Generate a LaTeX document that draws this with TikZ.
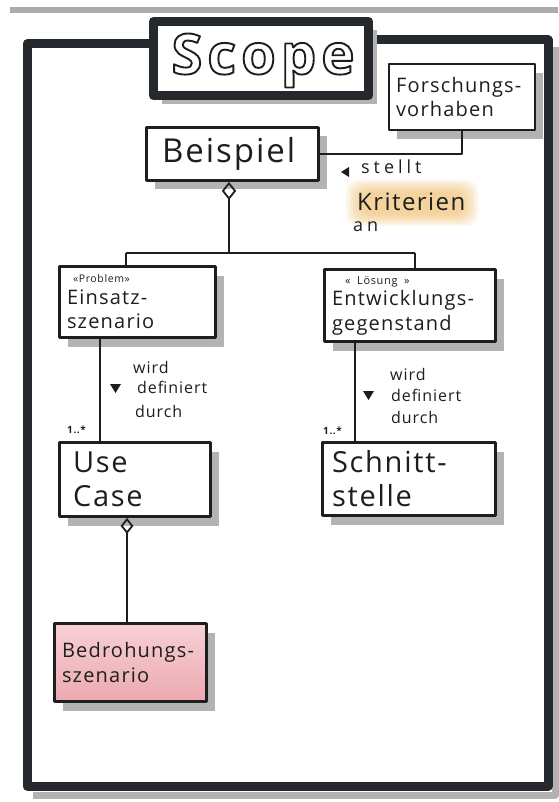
\documentclass[tikz,border=0pt]{standalone}
\usepackage{fontspec}
\setmainfont{Open Sans}
\newfontfamily\hand{Open Sans}[LetterSpace=6]
\newfontfamily\widehand{Open Sans}[LetterSpace=22]
\newfontfamily\titlefont{Open Sans}[LetterSpace=9]
\usetikzlibrary{arrows.meta,shadows,calc}

\definecolor{ink}{HTML}{1E1E1E}
\definecolor{framecol}{HTML}{25292D}
\definecolor{shadowgray}{HTML}{B3B3B3}
\definecolor{pagegray}{HTML}{ABABAB}
\definecolor{pinktop}{HTML}{F6D0D5}
\definecolor{pinkbot}{HTML}{ECA9B1}
\definecolor{hilite}{HTML}{F0B860}

% outlined (stroked) glyphs for the title
\newcommand\outlinetext[1]{\special{pdf:literal direct 1 Tr 1.9 w}#1\special{pdf:literal direct 0 Tr}}

\tikzset{
  box/.style={draw=ink, line width=2.8pt, fill=white, align=left, inner sep=0pt,
    text=ink, execute at begin node={\exhyphenpenalty=10000 \hyphenpenalty=10000 },
    drop shadow={shadow xshift=8pt, shadow yshift=-9pt, fill=shadowgray, opacity=1}},
  conn/.style={draw=ink, line width=1.9pt},
  thin/.style={draw=ink, line width=1.5pt},
  lbl/.style={text=ink, inner sep=0pt, font=\hand\fontsize{16}{19}\selectfont},
  widelbl/.style={text=ink, inner sep=0pt, font=\widehand\fontsize{18}{21}\selectfont},
  mult/.style={text=ink, inner sep=0pt, font=\hand\bfseries\fontsize{10}{12}\selectfont},
  boxfont/.style={font=\hand\fontsize{20}{24.5}\selectfont},
  bigfont/.style={font=\hand\fontsize{29}{34}\selectfont},
  titletxt/.style={inner sep=0pt, font=\titlefont\bfseries\fontsize{56}{62}\selectfont},
  opendiamond/.style={{Diamond[open, length=#1, width=0.8*#1, line width=1.8pt]}-},
}

\begin{document}
\begin{tikzpicture}[x=1pt, y=-1pt, line join=round]
  % page and bounding box
  \fill[white] (0,0) rectangle (558,802);
  \useasboundingbox (0,0) rectangle (558,802);
  \fill[pagegray] (10,7) rectangle (558,13);

  % outer frame with its shadow
  \draw[shadowgray, line width=7pt] (555,47) -- (555,795) -- (33,795);
  \draw[framecol, line width=9pt, line cap=round] (149,44) -- (27,44) -- (27,786) -- (548,786) -- (548,40) -- (373,40);

  % title box with hollow lettering
  \node[box, line width=9pt, draw=framecol, minimum width=215pt, minimum height=74pt] (scope) at (261,58.5) {};
  \node[titletxt, text=ink] (scopetxt) at ($(scope.center)+(2,2)$) {\outlinetext{Scope}};

  % classes
  \node[box, boxfont, minimum width=146pt, minimum height=66pt, text width=132pt] (forsch) at (462,97)
    {Forschungs-\\vorhaben};
  \node[box, font=\hand\fontsize{33}{38}\selectfont, minimum width=172pt, minimum height=53pt, text width=141pt] (beispiel) at (232.5,154)
    {Beispiel};
  \node[box, boxfont, minimum width=156pt, minimum height=71pt, text width=141pt] (einsatz) at (137.5,302)
    {\hspace*{6pt}{\fontsize{10.5}{11}\selectfont «Problem»}\\[-3pt]Einsatz-\\szenario};
  \node[box, boxfont, minimum width=171pt, minimum height=72pt, text width=156pt] (entw) at (410,305.5)
    {\hspace*{13pt}{\fontsize{11}{11}\selectfont « Lösung »}\\[-3pt]Entwicklungs-\\gegenstand};
  \node[box, bigfont, minimum width=151pt, minimum height=74pt, text width=124pt] (usecase) at (135,479.5)
    {Use\\Case};
  \node[box, bigfont, minimum width=173pt, minimum height=73pt, text width=154pt] (schnitt) at (409,479)
    {Schnitt-\\stelle};
  \node[box, boxfont, top color=pinktop, bottom color=pinkbot, minimum width=152pt, minimum height=78pt, text width=137pt] (bedroh) at (130.5,662.5)
    {Bedrohungs-\\szenario};

  % association Beispiel -- Forschungsvorhaben
  \draw[thin] (beispiel.east) -| (forsch.south);
  \fill[ink] (341,172) -- (349,167) -- (349,177) -- cycle;
  \node[widelbl, anchor=base west] (stellt) at (361,174) {stellt};
  \foreach \k in {0,...,6}
    \fill[hilite, opacity=0.12, rounded corners=12pt] (346+2.5*\k,180+2*\k) rectangle (478-2.5*\k,226-2*\k);
  \node[lbl, anchor=base west, font=\hand\fontsize{24}{28}\selectfont] (krit) at (357,211) {Kriterien};
  \node[widelbl, anchor=base west] (an) at (353,231) {an};

  % aggregation Beispiel -> Einsatzszenario / Entwicklungsgegenstand
  \coordinate (j) at (229,253);
  \coordinate (jl) at (126,253);
  \coordinate (jr) at (415,253);
  \draw[conn, opendiamond=18pt] (beispiel.south -| j) -- (j);
  \draw[conn] (jl) -- (jr);
  \draw[conn] (jl) -- (jl |- einsatz.north);
  \draw[conn] (jr) -- (jr |- entw.north);

  % "wird definiert durch" associations
  \coordinate (lv) at (100,0);
  \coordinate (rv) at (355,0);
  \draw[conn] (lv |- einsatz.south) -- (lv |- usecase.north);
  \draw[conn] (rv |- entw.south) -- (rv |- schnitt.north);
  \fill[ink] (110,384) -- (121,384) -- (115.5,393) -- cycle;
  \fill[ink] (363,391) -- (374,391) -- (368.5,400) -- cycle;
  \node[lbl, anchor=base west] (w1) at (133,373) {wird};
  \node[lbl, anchor=base west] (d1) at (137,393) {definiert};
  \node[lbl, anchor=base west] (u1) at (135,417) {durch};
  \node[lbl, anchor=base west] (w2) at (390,380) {wird};
  \node[lbl, anchor=base west] (d2) at (391,401) {definiert};
  \node[lbl, anchor=base west] (u2) at (391,423) {durch};
  \node[mult, anchor=base west] (m1) at (67,433) {1..*};
  \node[mult, anchor=base west] (m2) at (323,434) {1..*};

  % aggregation Use Case -> Bedrohungsszenario
  \coordinate (bv) at (127,0);
  \draw[conn, opendiamond=16pt] (bv |- usecase.south) -- (bv |- bedroh.north);
\end{tikzpicture}
\end{document}
